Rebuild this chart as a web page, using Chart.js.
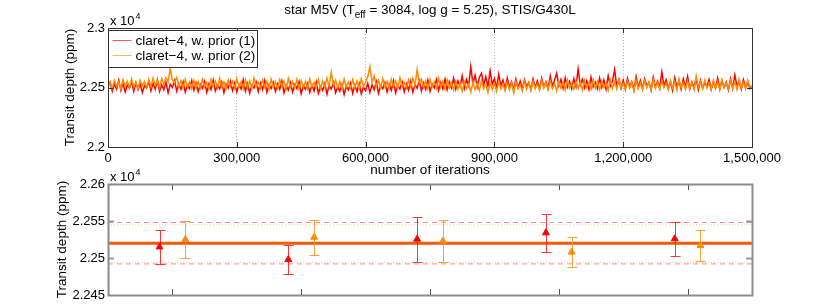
<!DOCTYPE html>
<html>
<head>
<meta charset="utf-8">
<script src="https://cdn.jsdelivr.net/npm/chart.js@4"></script>
<style>
  html, body { margin: 0; padding: 0; background: #fff; }
  #wrap { position: relative; width: 830px; height: 308px; }
  #wrap canvas { position: absolute; left: 0; }
  #traceChart { top: 0; }
  #depthChart { top: 160px; }
</style>
</head>
<body>
<div id="wrap">
  <canvas id="traceChart" width="830" height="178"></canvas>
  <canvas id="depthChart" width="830" height="148"></canvas>
</div>
<script>
// star M5V, STIS/G430L — MCMC traces (top) and per-chunk transit depths (bottom)

// ---- data: top panel (transit depth in ppm, one sample every iterStep iterations) ----
const iterStep = 5000;
const depthRun1 = [
  22512, 22546, 22470, 22528, 22488, 22560, 22475, 22536, 22462, 22519, 22494, 22552, 22468, 22541, 22483, 22530, 22458, 22515, 22497, 22549,
  22472, 22535, 22486, 22563, 22466, 22522, 22480, 22544, 22455, 22527, 22499, 22556, 22469, 22533, 22484, 22548, 22461, 22518, 22490, 22558,
  22477, 22539, 22465, 22525, 22493, 22551, 22459, 22531, 22482, 22562, 22470, 22520, 22488, 22545, 22457, 22529, 22496, 22553, 22474, 22537,
  22463, 22524, 22487, 22566, 22471, 22532, 22452, 22516, 22495, 22547, 22466, 22538, 22481, 22559, 22460, 22521, 22491, 22543, 22468, 22530,
  22485, 22554, 22456, 22517, 22478, 22540, 22463, 22526, 22492, 22550, 22448, 22513, 22484, 22535, 22460, 22522, 22470, 22545, 22451, 22509,
  22476, 22532, 22444, 22518, 22487, 22541, 22455, 22505, 22469, 22528, 22441, 22511, 22480, 22537, 22452, 22520, 22466, 22534, 22447, 22503,
  22473, 22536, 22458, 22524, 22482, 22549, 22450, 22514, 22490, 22542, 22462, 22527, 22477, 22555, 22456, 22519, 22486, 22546, 22465, 22531,
  22479, 22553, 22460, 22523, 22494, 22558, 22471, 22538, 22484, 22562, 22468, 22529, 22497, 22566, 22476, 22544, 22489, 22571, 22482, 22550,
  22498, 22578, 22487, 22556, 22510, 22596, 22492, 22567, 22515, 22676, 22530, 22602, 22505, 22585, 22620, 22521, 22590, 22508, 22640, 22526,
  22575, 22496, 22610, 22514, 22562, 22489, 22580, 22503, 22548, 22478, 22570, 22497, 22553, 22486, 22566, 22508, 22544, 22482, 22572, 22499,
  22555, 22487, 22578, 22506, 22547, 22492, 22596, 22511, 22560, 22620, 22515, 22568, 22494, 22582, 22503, 22550, 22488, 22574, 22510, 22655,
  22522, 22570, 22497, 22556, 22485, 22588, 22507, 22545, 22491, 22579, 22502, 22563, 22486, 22598, 22512, 22552, 22650, 22509, 22566, 22493,
  22560, 22484, 22577, 22505, 22548, 22480, 22590, 22500, 22558, 22489, 22573, 22511, 22542, 22478, 22586, 22504, 22553, 22495, 22630, 22516,
  22565, 22490, 22548, 22476, 22582, 22502, 22556, 22484, 22570, 22498, 22592, 22487, 22545, 22506, 22575, 22481, 22560, 22495, 22541, 22508,
  22568, 22483, 22550, 22497, 22579, 22488, 22556, 22502, 22546, 22480, 22572, 22493, 22605, 22509, 22552, 22486, 22566, 22498, 22543, 22490,
  22515
];
const depthRun2 = [
  22505, 22541, 22493, 22560, 22508, 22548, 22486, 22566, 22512, 22553, 22497, 22572, 22503, 22545, 22490, 22562, 22515, 22551, 22499, 22568,
  22506, 22579, 22520, 22558, 22496, 22575, 22530, 22583, 22548, 22657, 22562, 22540, 22585, 22507, 22556, 22494, 22569, 22503, 22547, 22488,
  22561, 22500, 22552, 22492, 22570, 22506, 22543, 22485, 22566, 22511, 22555, 22496, 22578, 22503, 22546, 22489, 22563, 22509, 22551, 22495,
  22574, 22504, 22548, 22487, 22567, 22499, 22556, 22491, 22580, 22510, 22545, 22494, 22562, 22505, 22553, 22483, 22571, 22500, 22549, 22492,
  22565, 22508, 22554, 22488, 22576, 22502, 22547, 22496, 22568, 22485, 22558, 22503, 22551, 22491, 22573, 22507, 22544, 22497, 22566, 22486,
  22556, 22500, 22578, 22509, 22630, 22520, 22561, 22498, 22550, 22489, 22572, 22505, 22546, 22493, 22566, 22501, 22555, 22487, 22575, 22510,
  22548, 22590, 22676, 22545, 22598, 22512, 22560, 22496, 22574, 22506, 22551, 22490, 22569, 22508, 22557, 22499, 22582, 22511, 22546, 22494,
  22565, 22503, 22578, 22516, 22650, 22538, 22571, 22500, 22555, 22489, 22567, 22507, 22548, 22492, 22576, 22502, 22553, 22486, 22564, 22497,
  22540, 22478, 22552, 22486, 22531, 22470, 22546, 22491, 22528, 22462, 22549, 22483, 22535, 22474, 22556, 22488, 22525, 22458, 22541, 22480,
  22533, 22466, 22551, 22487, 22529, 22472, 22545, 22481, 22537, 22455, 22548, 22490, 22523, 22469, 22556, 22484, 22539, 22476, 22552, 22492,
  22530, 22478, 22560, 22495, 22541, 22482, 22557, 22489, 22534, 22473, 22550, 22494, 22545, 22480, 22563, 22497, 22532, 22486, 22554, 22491,
  22543, 22478, 22559, 22500, 22538, 22484, 22566, 22493, 22547, 22481, 22555, 22498, 22536, 22475, 22562, 22492, 22548, 22487, 22570, 22501,
  22536, 22480, 22553, 22495, 22544, 22472, 22561, 22490, 22539, 22483, 22558, 22497, 22546, 22478, 22567, 22493, 22541, 22486, 22555, 22499,
  22537, 22482, 22560, 22494, 22549, 22476, 22572, 22497, 22540, 22485, 22556, 22490, 22545, 22480, 22595, 22502, 22551, 22488, 22563, 22496,
  22539, 22484, 22561, 22493, 22548, 22479, 22565, 22500, 22541, 22486, 22557, 22495, 22550, 22482, 22569, 22498, 22543, 22489, 22560, 22501,
  22514
];
const runLabels = ['claret\u22124, w. prior (1)', 'claret\u22124, w. prior (2)'];
const iterTicks = [0, 300000, 600000, 900000, 1200000, 1500000];
const depthTicksTop = [22000, 22500, 23000];

// ---- data: bottom panel (chunk means and 1-sigma errors, ppm) ----
const chunks = [1, 2, 3, 4, 5];
const chunkDepth1 = [22515, 22498, 22525.5, 22534, 22526];
const chunkErr1 = [23, 20, 30.5, 26, 23];
const chunkDepth2 = [22525, 22528, 22523, 22508, 22517];
const chunkErr2 = [25, 23.5, 29, 20, 21];
const meanDepth = 22520;
const sigmaBand1 = [22492, 22548];
const sigmaBand2 = [22494, 22545];
const depthTicksBottom = [22450, 22500, 22550, 22600];

const FONT = '"Liberation Sans", Arial, sans-serif';
const RED = '#ff0000';
const ORANGE = '#ff8c00';

// box around the plot area + inward tick marks
const frameTicks = {
  id: 'frameTicks',
  afterDatasetsDraw(chart, args, o) {
    const { ctx, chartArea: a, scales } = chart;
    ctx.save();
    ctx.strokeStyle = o.xColor;
    ctx.lineWidth = o.xWidth;
    (o.xValues || []).forEach(v => {
      const px = Math.round(scales.x.getPixelForValue(v)) + 0.5;
      if (px <= a.left + 1 || px >= a.right - 1) return;
      ctx.beginPath();
      ctx.moveTo(px, a.bottom); ctx.lineTo(px, a.bottom - o.len);
      ctx.moveTo(px, a.top); ctx.lineTo(px, a.top + o.len);
      ctx.stroke();
    });
    ctx.strokeStyle = o.yColor;
    ctx.lineWidth = o.yWidth;
    (o.yValues || []).forEach(v => {
      const py = Math.round(scales.y.getPixelForValue(v)) + 0.5;
      if (py <= a.top + 1 || py >= a.bottom - 1) return;
      ctx.beginPath();
      ctx.moveTo(a.left, py); ctx.lineTo(a.left + o.len, py);
      ctx.moveTo(a.right, py); ctx.lineTo(a.right - o.len, py);
      ctx.stroke();
    });
    ctx.strokeStyle = o.borderColor;
    ctx.lineWidth = o.borderWidth;
    ctx.strokeRect(a.left + 0.5, a.top + 0.5, a.right - a.left, a.bottom - a.top);
    ctx.restore();
  }
};

// "x 10^4" above the y axis
const expLabel = {
  id: 'expLabel',
  afterDraw(chart) {
    const { ctx, chartArea: a } = chart;
    ctx.save();
    ctx.fillStyle = '#000';
    ctx.textBaseline = 'alphabetic';
    ctx.font = '13px ' + FONT;
    ctx.fillText('x 10', a.left + 2, a.top - 3);
    const w = ctx.measureText('x 10').width;
    ctx.font = '9px ' + FONT;
    ctx.fillText('4', a.left + 3 + w, a.top - 9);
    ctx.restore();
  }
};

// title with subscript
const subTitle = {
  id: 'subTitle',
  afterDraw(chart) {
    const { ctx, chartArea: a } = chart;
    const p1 = 'star M5V (T', sub = 'eff', p2 = ' = 3084, log g = 5.25), STIS/G430L';
    ctx.save();
    ctx.fillStyle = '#000';
    ctx.font = '13.5px ' + FONT;
    const w1 = ctx.measureText(p1).width, w2 = ctx.measureText(p2).width;
    ctx.font = '10px ' + FONT;
    const ws = ctx.measureText(sub).width;
    let x = (a.left + a.right) / 2 - (w1 + ws + w2) / 2;
    ctx.font = '13.5px ' + FONT;
    ctx.fillText(p1, x, 14);
    ctx.font = '10px ' + FONT;
    ctx.fillText(sub, x + w1, 18);
    ctx.font = '13.5px ' + FONT;
    ctx.fillText(p2, x + w1 + ws, 14);
    ctx.restore();
  }
};

// boxed legend in the upper-left corner of the plot
const boxLegend = {
  id: 'boxLegend',
  afterDatasetsDraw(chart) {
    const { ctx, chartArea: a } = chart;
    const x0 = a.left + 0.5, y0 = a.top + 2.5;
    ctx.save();
    ctx.fillStyle = '#fff';
    ctx.fillRect(x0, y0, 149, 37);
    ctx.strokeStyle = '#333';
    ctx.lineWidth = 1;
    ctx.strokeRect(x0, y0, 149, 37);
    ctx.font = '13.5px ' + FONT;
    ctx.textBaseline = 'middle';
    chart.data.datasets.forEach((ds, i) => {
      const y = Math.round(y0 + 9 + i * 15.5) + 0.5;
      ctx.strokeStyle = ds.legendColor;
      ctx.lineWidth = 1;
      ctx.beginPath();
      ctx.moveTo(x0 + 4, y); ctx.lineTo(x0 + 23, y);
      ctx.stroke();
      ctx.fillStyle = '#000';
      ctx.fillText(ds.label, x0 + 27, y + 0.5);
    });
    ctx.restore();
  }
};

// vertical error bars with caps, drawn just before each scatter dataset
const errorBars = {
  id: 'errorBars',
  beforeDatasetDraw(chart, args) {
    const ds = chart.data.datasets[args.index];
    if (!ds.errors) return;
    const { ctx, scales: { x, y } } = chart;
    ctx.save();
    ctx.strokeStyle = ds.errorColor;
    ctx.lineWidth = 1;
    ds.data.forEach((p, i) => {
      const px = Math.round(x.getPixelForValue(p.x)) + 0.5;
      const top = Math.round(y.getPixelForValue(p.y + ds.errors[i])) + 0.5;
      const bot = Math.round(y.getPixelForValue(p.y - ds.errors[i])) + 0.5;
      ctx.beginPath();
      ctx.moveTo(px, top); ctx.lineTo(px, bot);
      ctx.moveTo(px - 5, top); ctx.lineTo(px + 5, top);
      ctx.moveTo(px - 5, bot); ctx.lineTo(px + 5, bot);
      ctx.stroke();
    });
    ctx.restore();
  }
};

const tickFont = { family: FONT, size: 13 };
const titleFont = { family: FONT, size: 13.5 };

new Chart(document.getElementById('traceChart'), {
  type: 'line',
  data: {
    datasets: [
      {
        label: runLabels[0],
        data: depthRun1.map((v, i) => ({ x: i * iterStep, y: v })),
        borderColor: RED,
        legendColor: '#ff5a5a',
        borderWidth: 1.5,
        pointRadius: 0,
        order: 2,
      },
      {
        label: runLabels[1],
        data: depthRun2.map((v, i) => ({ x: i * iterStep, y: v })),
        borderColor: ORANGE,
        legendColor: '#ffb45a',
        borderWidth: 1.5,
        pointRadius: 0,
        order: 1,
      },
    ],
  },
  options: {
    responsive: false,
    animation: false,
    layout: { padding: { top: 28, left: 62, right: 78, bottom: 0 } },
    plugins: {
      legend: { display: false },
      tooltip: { enabled: false },
      frameTicks: {
        xValues: iterTicks, yValues: depthTicksTop, len: 5,
        xColor: '#333', xWidth: 1, yColor: '#333', yWidth: 1,
        borderColor: '#333', borderWidth: 1,
      },
    },
    scales: {
      x: {
        type: 'linear',
        min: 0,
        max: 1500000,
        afterBuildTicks: s => { s.ticks = iterTicks.map(v => ({ value: v })); },
        afterFit: s => { s.height = 31; },
        grid: {
          drawTicks: false,
          color: c => (c.tick && (c.tick.value === 0 || c.tick.value === 1500000)) ? 'rgba(0,0,0,0)' : '#b4b4b4',
        },
        border: { display: false, dash: [1, 2] },
        ticks: {
          padding: 4, maxRotation: 0, autoSkip: false, color: '#000', font: tickFont,
          callback: v => v.toLocaleString('en-US'),
        },
        title: { display: true, text: 'number of iterations', padding: 0, color: '#000', font: titleFont },
      },
      y: {
        min: 22000,
        max: 23000,
        afterBuildTicks: s => { s.ticks = depthTicksTop.map(v => ({ value: v })); },
        afterFit: s => { s.width = 46; },
        grid: { display: false, drawTicks: false },
        border: { display: false },
        ticks: { padding: 3, color: '#000', font: tickFont, callback: v => String(v / 1e4) },
        title: { display: true, text: 'Transit depth (ppm)', padding: 0, color: '#000', font: titleFont },
      },
    },
  },
  plugins: [frameTicks, boxLegend, subTitle, expLabel],
});

const acrossLine = (y, color, width, dash) => ({
  data: [{ x: 0.5, y }, { x: 5.5, y }],
  showLine: true,
  borderColor: color,
  borderWidth: width,
  borderDash: dash,
  pointRadius: 0,
  order: 3,
});

new Chart(document.getElementById('depthChart'), {
  type: 'scatter',
  data: {
    datasets: [
      acrossLine(sigmaBand2[0], '#ffcf99', 1, [1, 2]),
      acrossLine(sigmaBand2[1], '#ffcf99', 1, [1, 2]),
      acrossLine(sigmaBand1[0], '#ff8a8a', 1, [5, 4]),
      acrossLine(sigmaBand1[1], '#ff8a8a', 1, [5, 4]),
      acrossLine(meanDepth, '#f25a0a', 3, []),
      {
        label: runLabels[0],
        data: chunks.map((g, i) => ({ x: g - 0.1, y: chunkDepth1[i] })),
        errors: chunkErr1,
        errorColor: 'rgba(255,20,20,0.85)',
        pointStyle: 'triangle',
        pointRadius: 4,
        backgroundColor: RED,
        borderColor: RED,
        borderWidth: 1,
        order: 1,
      },
      {
        label: runLabels[1],
        data: chunks.map((g, i) => ({ x: g + 0.1, y: chunkDepth2[i] })),
        errors: chunkErr2,
        errorColor: 'rgba(255,145,20,0.85)',
        pointStyle: 'triangle',
        pointRadius: 4,
        backgroundColor: ORANGE,
        borderColor: ORANGE,
        borderWidth: 1,
        order: 2,
      },
    ],
  },
  options: {
    responsive: false,
    animation: false,
    layout: { padding: { top: 24, left: 54, right: 78, bottom: 0 } },
    plugins: {
      legend: { display: false },
      tooltip: { enabled: false },
      frameTicks: {
        xValues: chunks, yValues: depthTicksBottom, len: 6,
        xColor: '#555', xWidth: 1, yColor: '#999', yWidth: 2,
        borderColor: '#8c8c8c', borderWidth: 2,
      },
    },
    scales: {
      x: {
        type: 'linear',
        min: 0.5,
        max: 5.5,
        afterFit: s => { s.height = 13; },
        grid: { display: false, drawTicks: false },
        border: { display: false },
        ticks: { display: false },
      },
      y: {
        min: 22450,
        max: 22600,
        afterBuildTicks: s => { s.ticks = depthTicksBottom.map(v => ({ value: v })); },
        afterFit: s => { s.width = 54; },
        grid: { display: false, drawTicks: false },
        border: { display: false },
        ticks: { padding: 3, color: '#000', font: tickFont, callback: v => String(v / 1e4) },
        title: { display: true, text: 'Transit depth (ppm)', padding: 0, color: '#000', font: titleFont },
      },
    },
  },
  plugins: [frameTicks, errorBars, expLabel],
});
</script>
</body>
</html>
